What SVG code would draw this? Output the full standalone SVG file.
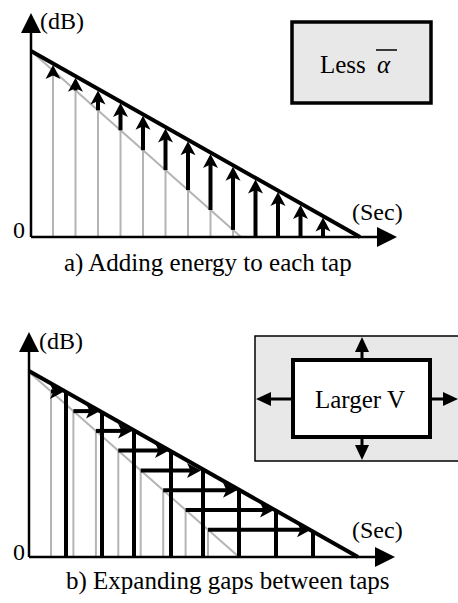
<svg xmlns="http://www.w3.org/2000/svg" xmlns:xlink="http://www.w3.org/1999/xlink" width="458" height="603" viewBox="0 0 458 603">
<style>
.lbl{font-size:24px}
.cap{font-size:25px}
.axis{stroke:#000;stroke-width:2.5;fill:none}
.env{stroke:#000;stroke-width:4;fill:none}
.gray{stroke:#b4b4b4;stroke-width:2;fill:none}
.shaft{stroke:#000;stroke-width:4;fill:none}
.tap{stroke:#000;stroke-width:4;fill:none}
.hd{fill:#000;stroke:none}
</style>
<defs>
<path id="hu" d="M0,0 L7.5,14 L0,10.5 L-7.5,14 Z"/>
<path id="hr" d="M0,0 L-14,-7.5 L-10.5,0 L-14,7.5 Z"/>
</defs>
<rect width="458" height="603" fill="#fff"/>
<g font-family="'Liberation Serif', Tinos, 'Times New Roman', 'DejaVu Serif', serif" fill="#000">

<g id="plot-a">
<g id="connectors-a">
<line class="gray" x1="31" y1="51" x2="241" y2="237"/>
<line class="gray" x1="53" y1="70.5" x2="53" y2="237"/>
<line class="gray" x1="75.5" y1="90.4" x2="75.5" y2="237"/>
<line class="gray" x1="98" y1="110.3" x2="98" y2="237"/>
<line class="gray" x1="120.5" y1="130.3" x2="120.5" y2="237"/>
<line class="gray" x1="143" y1="150.2" x2="143" y2="237"/>
<line class="gray" x1="165.5" y1="170.1" x2="165.5" y2="237"/>
<line class="gray" x1="188" y1="190.1" x2="188" y2="237"/>
<line class="gray" x1="210.5" y1="210" x2="210.5" y2="237"/>
<line class="gray" x1="233" y1="229.9" x2="233" y2="237"/>
<line class="axis" x1="31" y1="237" x2="382" y2="237"/>
<line class="axis" x1="31" y1="237" x2="31" y2="28"/>
<path class="hd" d="M31,13 L41,33 L21,33 Z"/>
<path class="hd" d="M397,237 L377,227 L377,247 Z"/>
<line class="env" x1="31" y1="51" x2="360" y2="237"/>
<line class="shaft" x1="75.5" y1="90.4" x2="75.5" y2="87"/>
<line class="shaft" x1="98" y1="110.3" x2="98" y2="100"/>
<line class="shaft" x1="120.5" y1="130.3" x2="120.5" y2="113"/>
<line class="shaft" x1="143" y1="150.2" x2="143" y2="125.5"/>
<line class="shaft" x1="165.5" y1="170.1" x2="165.5" y2="138"/>
<line class="shaft" x1="188" y1="190.1" x2="188" y2="151"/>
<line class="shaft" x1="210.5" y1="210" x2="210.5" y2="163.5"/>
<line class="shaft" x1="233" y1="229.9" x2="233" y2="176.5"/>
<line class="shaft" x1="255.5" y1="237" x2="255.5" y2="189"/>
<line class="shaft" x1="278" y1="237" x2="278" y2="201.5"/>
<line class="shaft" x1="300.5" y1="237" x2="300.5" y2="214.5"/>
<line class="shaft" x1="323" y1="237" x2="323" y2="227"/>
<use class="hd" href="#hu" xlink:href="#hu" x="53" y="64.9"/>
<use class="hd" href="#hu" xlink:href="#hu" x="75.5" y="77.7"/>
<use class="hd" href="#hu" xlink:href="#hu" x="98" y="90.4"/>
<use class="hd" href="#hu" xlink:href="#hu" x="120.5" y="103.1"/>
<use class="hd" href="#hu" xlink:href="#hu" x="143" y="115.8"/>
<use class="hd" href="#hu" xlink:href="#hu" x="165.5" y="128.5"/>
<use class="hd" href="#hu" xlink:href="#hu" x="188" y="141.3"/>
<use class="hd" href="#hu" xlink:href="#hu" x="210.5" y="154"/>
<use class="hd" href="#hu" xlink:href="#hu" x="233" y="166.7"/>
<use class="hd" href="#hu" xlink:href="#hu" x="255.5" y="179.4"/>
<use class="hd" href="#hu" xlink:href="#hu" x="278" y="192.1"/>
<use class="hd" href="#hu" xlink:href="#hu" x="300.5" y="204.9"/>
<use class="hd" href="#hu" xlink:href="#hu" x="323" y="217.6"/>
</g>
<text class="lbl" x="40" y="29">(dB)</text>
<text class="lbl" x="13" y="238">0</text>
<text class="lbl" x="352" y="220">(Sec)</text>
</g>

<g id="box-a">
<rect x="292" y="22" width="139" height="81" fill="#e8e8e8" stroke="#000" stroke-width="3.5"/>
<text class="cap" x="320" y="73">Less</text>
<text class="cap" x="377" y="73" font-style="italic">α</text>
<line x1="376" y1="50" x2="397" y2="50" stroke="#000" stroke-width="1.5"/>
</g>

<text id="caption-a" class="cap" x="64" y="271">a) Adding energy to each tap</text>

<g id="plot-b">
<g id="connectors-b">
<line class="gray" x1="29" y1="372" x2="239" y2="557"/>
<line class="gray" x1="51" y1="391.4" x2="51" y2="557"/>
<line class="gray" x1="73.4" y1="411.1" x2="73.4" y2="557"/>
<line class="gray" x1="95.9" y1="430.9" x2="95.9" y2="557"/>
<line class="gray" x1="118.3" y1="450.6" x2="118.3" y2="557"/>
<line class="gray" x1="140.7" y1="470.4" x2="140.7" y2="557"/>
<line class="gray" x1="163.2" y1="490.2" x2="163.2" y2="557"/>
<line class="gray" x1="185.6" y1="510" x2="185.6" y2="557"/>
<line class="gray" x1="208" y1="529.7" x2="208" y2="557"/>
<line class="axis" x1="29" y1="557" x2="380" y2="557"/>
<line class="axis" x1="29" y1="557" x2="29" y2="348"/>
<path class="hd" d="M29,332 L39,352 L19,352 Z"/>
<path class="hd" d="M395,557 L375,547 L375,567 Z"/>
<line class="env" x1="29" y1="371" x2="358" y2="557"/>
<line class="tap" x1="66" y1="391.9" x2="66" y2="557"/>
<line class="tap" x1="102" y1="412.3" x2="102" y2="557"/>
<line class="tap" x1="134" y1="430.4" x2="134" y2="557"/>
<line class="tap" x1="171" y1="451.3" x2="171" y2="557"/>
<line class="tap" x1="203" y1="469.4" x2="203" y2="557"/>
<line class="tap" x1="239" y1="489.7" x2="239" y2="557"/>
<line class="tap" x1="276" y1="510.6" x2="276" y2="557"/>
<line class="tap" x1="313" y1="531.6" x2="313" y2="557"/>
<line class="shaft" x1="51" y1="391.4" x2="54" y2="391.4"/>
<line class="shaft" x1="73.4" y1="411.1" x2="90" y2="411.1"/>
<line class="shaft" x1="95.9" y1="430.9" x2="122" y2="430.9"/>
<line class="shaft" x1="118.3" y1="450.6" x2="159" y2="450.6"/>
<line class="shaft" x1="140.7" y1="470.4" x2="191" y2="470.4"/>
<line class="shaft" x1="163.2" y1="490.2" x2="227" y2="490.2"/>
<line class="shaft" x1="185.6" y1="510" x2="264" y2="510"/>
<line class="shaft" x1="208" y1="529.7" x2="301" y2="529.7"/>
<use class="hd" href="#hr" xlink:href="#hr" x="64" y="391.4"/>
<use class="hd" href="#hr" xlink:href="#hr" x="100" y="411.1"/>
<use class="hd" href="#hr" xlink:href="#hr" x="132" y="430.9"/>
<use class="hd" href="#hr" xlink:href="#hr" x="169" y="450.6"/>
<use class="hd" href="#hr" xlink:href="#hr" x="201" y="470.4"/>
<use class="hd" href="#hr" xlink:href="#hr" x="237" y="490.2"/>
<use class="hd" href="#hr" xlink:href="#hr" x="274" y="510"/>
<use class="hd" href="#hr" xlink:href="#hr" x="311" y="529.7"/>
</g>
<text class="lbl" x="39" y="349">(dB)</text>
<text class="lbl" x="13" y="560">0</text>
<text class="lbl" x="352" y="538">(Sec)</text>
</g>

<g id="box-b">
<rect x="255" y="336" width="215" height="125" fill="#e8e8e8" stroke="#000" stroke-width="1.5"/>
<g id="box-b-arrows">
<line x1="362" y1="360" x2="362" y2="350" stroke="#000" stroke-width="3"/>
<path class="hd" d="M362,337 L369,352 L355,352 Z"/>
<line x1="362" y1="437" x2="362" y2="447" stroke="#000" stroke-width="3"/>
<path class="hd" d="M362,460 L369,445 L355,445 Z"/>
<line x1="293" y1="399" x2="269" y2="399" stroke="#000" stroke-width="3"/>
<path class="hd" d="M256,399 L271,392 L271,406 Z"/>
<line x1="430" y1="399" x2="445" y2="399" stroke="#000" stroke-width="3"/>
<path class="hd" d="M458,399 L443,392 L443,406 Z"/>
</g>
<rect x="293" y="360" width="137" height="77" fill="#fff" stroke="#000" stroke-width="4"/>
<text class="cap" x="360" y="408" text-anchor="middle">Larger V</text>
</g>

<text id="caption-b" class="cap" x="66" y="589">b) Expanding gaps between taps</text>
</g>
</svg>
